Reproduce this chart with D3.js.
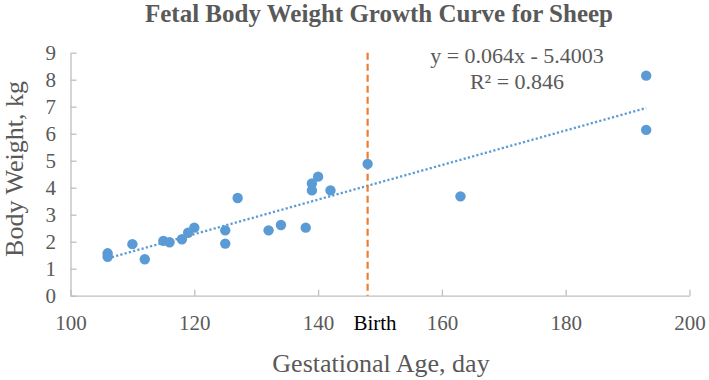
<!DOCTYPE html>
<html>
<head>
<meta charset="utf-8">
<script src="https://cdn.jsdelivr.net/npm/d3@7"></script>
<style>
  html, body { margin: 0; padding: 0; background: #fff; }
  svg { display: block; }
  text { font-family: "Liberation Serif", "Times New Roman", serif; }
</style>
</head>
<body>
<svg id="chart" width="709" height="380"></svg>
<script>
// ---- data ----
const days    = [106, 106, 110, 112, 115, 116, 118, 119, 120, 125, 125, 127, 132, 134, 138, 139, 139, 140, 142, 148, 163, 193, 193];
const weights = [1.57, 1.44, 1.91, 1.35, 2.03, 1.98, 2.09, 2.33, 2.52, 2.42, 1.93, 3.62, 2.42, 2.62, 2.52, 4.16, 3.90, 4.41, 3.90, 4.88, 3.68, 8.15, 6.14];
const xTicks = [100, 120, 140, 160, 180, 200];
const yTicks = [0, 1, 2, 3, 4, 5, 6, 7, 8, 9];
const trendSlope = 0.064;
const trendIntercept = -5.4003;
const birthDay = 148;
const titleText = "Fetal Body Weight Growth Curve for Sheep";
const xLabel = "Gestational Age, day";
const yLabel = "Body Weight, kg";
const eqText = "y = 0.064x - 5.4003";
const r2Text = "R² = 0.846";
const birthText = "Birth";

// ---- layout ----
const svg = d3.select("#chart");
const x = d3.scaleLinear().domain([100, 200]).range([70.5, 689.5]);
const y = d3.scaleLinear().domain([0, 9]).range([295.7, 52.7]);
const gray = "#595959";
const axisColor = "#BFBFBF";
const serif = '"Liberation Serif", "Times New Roman", serif';

// axes
const xAxis = d3.axisBottom(x).tickValues(xTicks).tickSizeInner(-6).tickSizeOuter(0).tickPadding(19.4);
const yAxis = d3.axisLeft(y).tickValues(yTicks).tickSizeInner(-6).tickSizeOuter(0).tickPadding(14.5);

const gx = svg.append("g").attr("transform", `translate(0,${y(0)})`).call(xAxis);
const gy = svg.append("g").attr("transform", `translate(${x(100)},0)`).call(yAxis);
[gx, gy].forEach(g => {
  g.attr("font-family", serif);
  g.select(".domain").attr("stroke", axisColor).attr("stroke-width", 1.3);
  g.selectAll(".tick line").attr("stroke", axisColor).attr("stroke-width", 1.3);
  g.selectAll(".tick text").attr("fill", gray).attr("font-size", 21).style("font-family", serif);
});

// trendline
const trendData = [d3.min(days), d3.max(days)].map(d => [d, trendSlope * d + trendIntercept]);
svg.append("path")
  .datum(trendData)
  .attr("d", d3.line().x(d => x(d[0])).y(d => y(d[1])))
  .attr("fill", "none")
  .attr("stroke", "#5B9BD5")
  .attr("stroke-width", 2.3)
  .attr("stroke-dasharray", "2.2 2.2");

// birth line
svg.append("line")
  .attr("x1", x(birthDay)).attr("x2", x(birthDay))
  .attr("y1", y(9)).attr("y2", y(0))
  .attr("stroke", "#ED7D31")
  .attr("stroke-width", 2.2)
  .attr("stroke-dasharray", "7 4");

// points
svg.append("g").selectAll("circle")
  .data(days.map((d, i) => [d, weights[i]]))
  .join("circle")
  .attr("cx", d => x(d[0]))
  .attr("cy", d => y(d[1]))
  .attr("r", 5.2)
  .attr("fill", "#5B9BD5");

// title
svg.append("text")
  .attr("x", 379).attr("y", 22)
  .attr("text-anchor", "middle")
  .attr("font-size", 25).attr("font-weight", "bold")
  .attr("fill", gray)
  .text(titleText);

// axis titles
svg.append("text")
  .attr("x", 381).attr("y", 372)
  .attr("text-anchor", "middle")
  .attr("font-size", 26)
  .attr("fill", gray)
  .text(xLabel);

svg.append("text")
  .attr("transform", "translate(23,169) rotate(-90)")
  .attr("text-anchor", "middle")
  .attr("font-size", 26)
  .attr("fill", gray)
  .text(yLabel);

// equation
svg.append("text")
  .attr("x", 517).attr("y", 63)
  .attr("text-anchor", "middle")
  .attr("font-size", 22)
  .attr("fill", gray)
  .text(eqText);
svg.append("text")
  .attr("x", 517).attr("y", 89)
  .attr("text-anchor", "middle")
  .attr("font-size", 22)
  .attr("fill", gray)
  .text(r2Text);

// birth label
svg.append("text")
  .attr("x", 375).attr("y", 330)
  .attr("text-anchor", "middle")
  .attr("font-size", 21)
  .attr("fill", "#000")
  .text(birthText);
</script>
</body>
</html>
